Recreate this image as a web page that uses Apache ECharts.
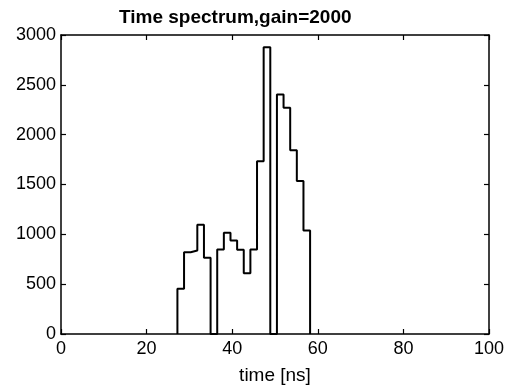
<!DOCTYPE html>
<html>
<head>
<meta charset="utf-8">
<script src="https://cdn.jsdelivr.net/npm/echarts@6/dist/echarts.min.js"></script>
<style>
  html, body { margin: 0; padding: 0; background: #fff; }
  #chart { width: 511px; height: 385px; }
</style>
</head>
<body>
<div id="chart"></div>
<script>
// bin edges (ns) and counts
const binStart = 27.2;
const binWidth = 1.55;
const counts = [455, 820, 838, 1096, 765, 0, 848, 1016, 939, 845, 610, 848,
  1733, 2877, 0, 2404, 2270, 1844, 1535, 1039];
const xTicks = [0, 20, 40, 60, 80, 100];
const yTicks = [0, 500, 1000, 1500, 2000, 2500, 3000];

// stairs: rise at first edge, one point per bin, drop at last edge
const stairs = [[binStart, 0]];
counts.forEach((c, i) => {
  stairs.push([+(binStart + i * binWidth).toFixed(2), c]);
});
stairs.push([+(binStart + counts.length * binWidth).toFixed(2), 0]);

const chart = echarts.init(document.getElementById('chart'));
const font = 'Liberation Sans, Arial, sans-serif';
const axisLine = { show: true, onZero: false, lineStyle: { color: '#000', width: 1.5 } };
const tickIn = { show: true, inside: true, length: 5, lineStyle: { color: '#000', width: 1.2 } };
const labelStyle = { fontFamily: font, fontSize: 18, color: '#000', formatter: (v) => String(v) };

chart.setOption({
  animation: false,
  title: {
    text: 'Time spectrum,gain=2000',
    left: 114,
    top: 3,
    textStyle: { fontFamily: font, fontSize: 19, fontWeight: 'bold', color: '#000' }
  },
  grid: { left: 61, right: 22, top: 35, bottom: 51, outerBoundsMode: 'none' },
  xAxis: [{
    type: 'value',
    min: xTicks[0],
    max: xTicks[xTicks.length - 1],
    interval: 20,
    name: 'time [ns]',
    nameLocation: 'middle',
    nameGap: 32,
    nameTextStyle: { fontFamily: font, fontSize: 19, color: '#000' },
    axisLine: axisLine,
    axisTick: tickIn,
    splitLine: { show: false },
    axisLabel: Object.assign({ margin: 6 }, labelStyle)
  }, {
    type: 'value',
    position: 'top',
    min: xTicks[0],
    max: xTicks[xTicks.length - 1],
    interval: 20,
    axisLine: axisLine,
    axisTick: tickIn,
    splitLine: { show: false },
    axisLabel: { show: false }
  }],
  yAxis: [{
    type: 'value',
    min: yTicks[0],
    max: yTicks[yTicks.length - 1],
    interval: 500,
    axisLine: axisLine,
    axisTick: tickIn,
    splitLine: { show: false },
    axisLabel: Object.assign({ margin: 5 }, labelStyle)
  }, {
    type: 'value',
    position: 'right',
    min: yTicks[0],
    max: yTicks[yTicks.length - 1],
    interval: 500,
    axisLine: axisLine,
    axisTick: tickIn,
    splitLine: { show: false },
    axisLabel: { show: false }
  }],
  series: [{
    type: 'line',
    step: 'end',
    data: stairs,
    symbol: 'none',
    lineStyle: { color: '#000', width: 2 }
  }]
});
</script>
</body>
</html>
